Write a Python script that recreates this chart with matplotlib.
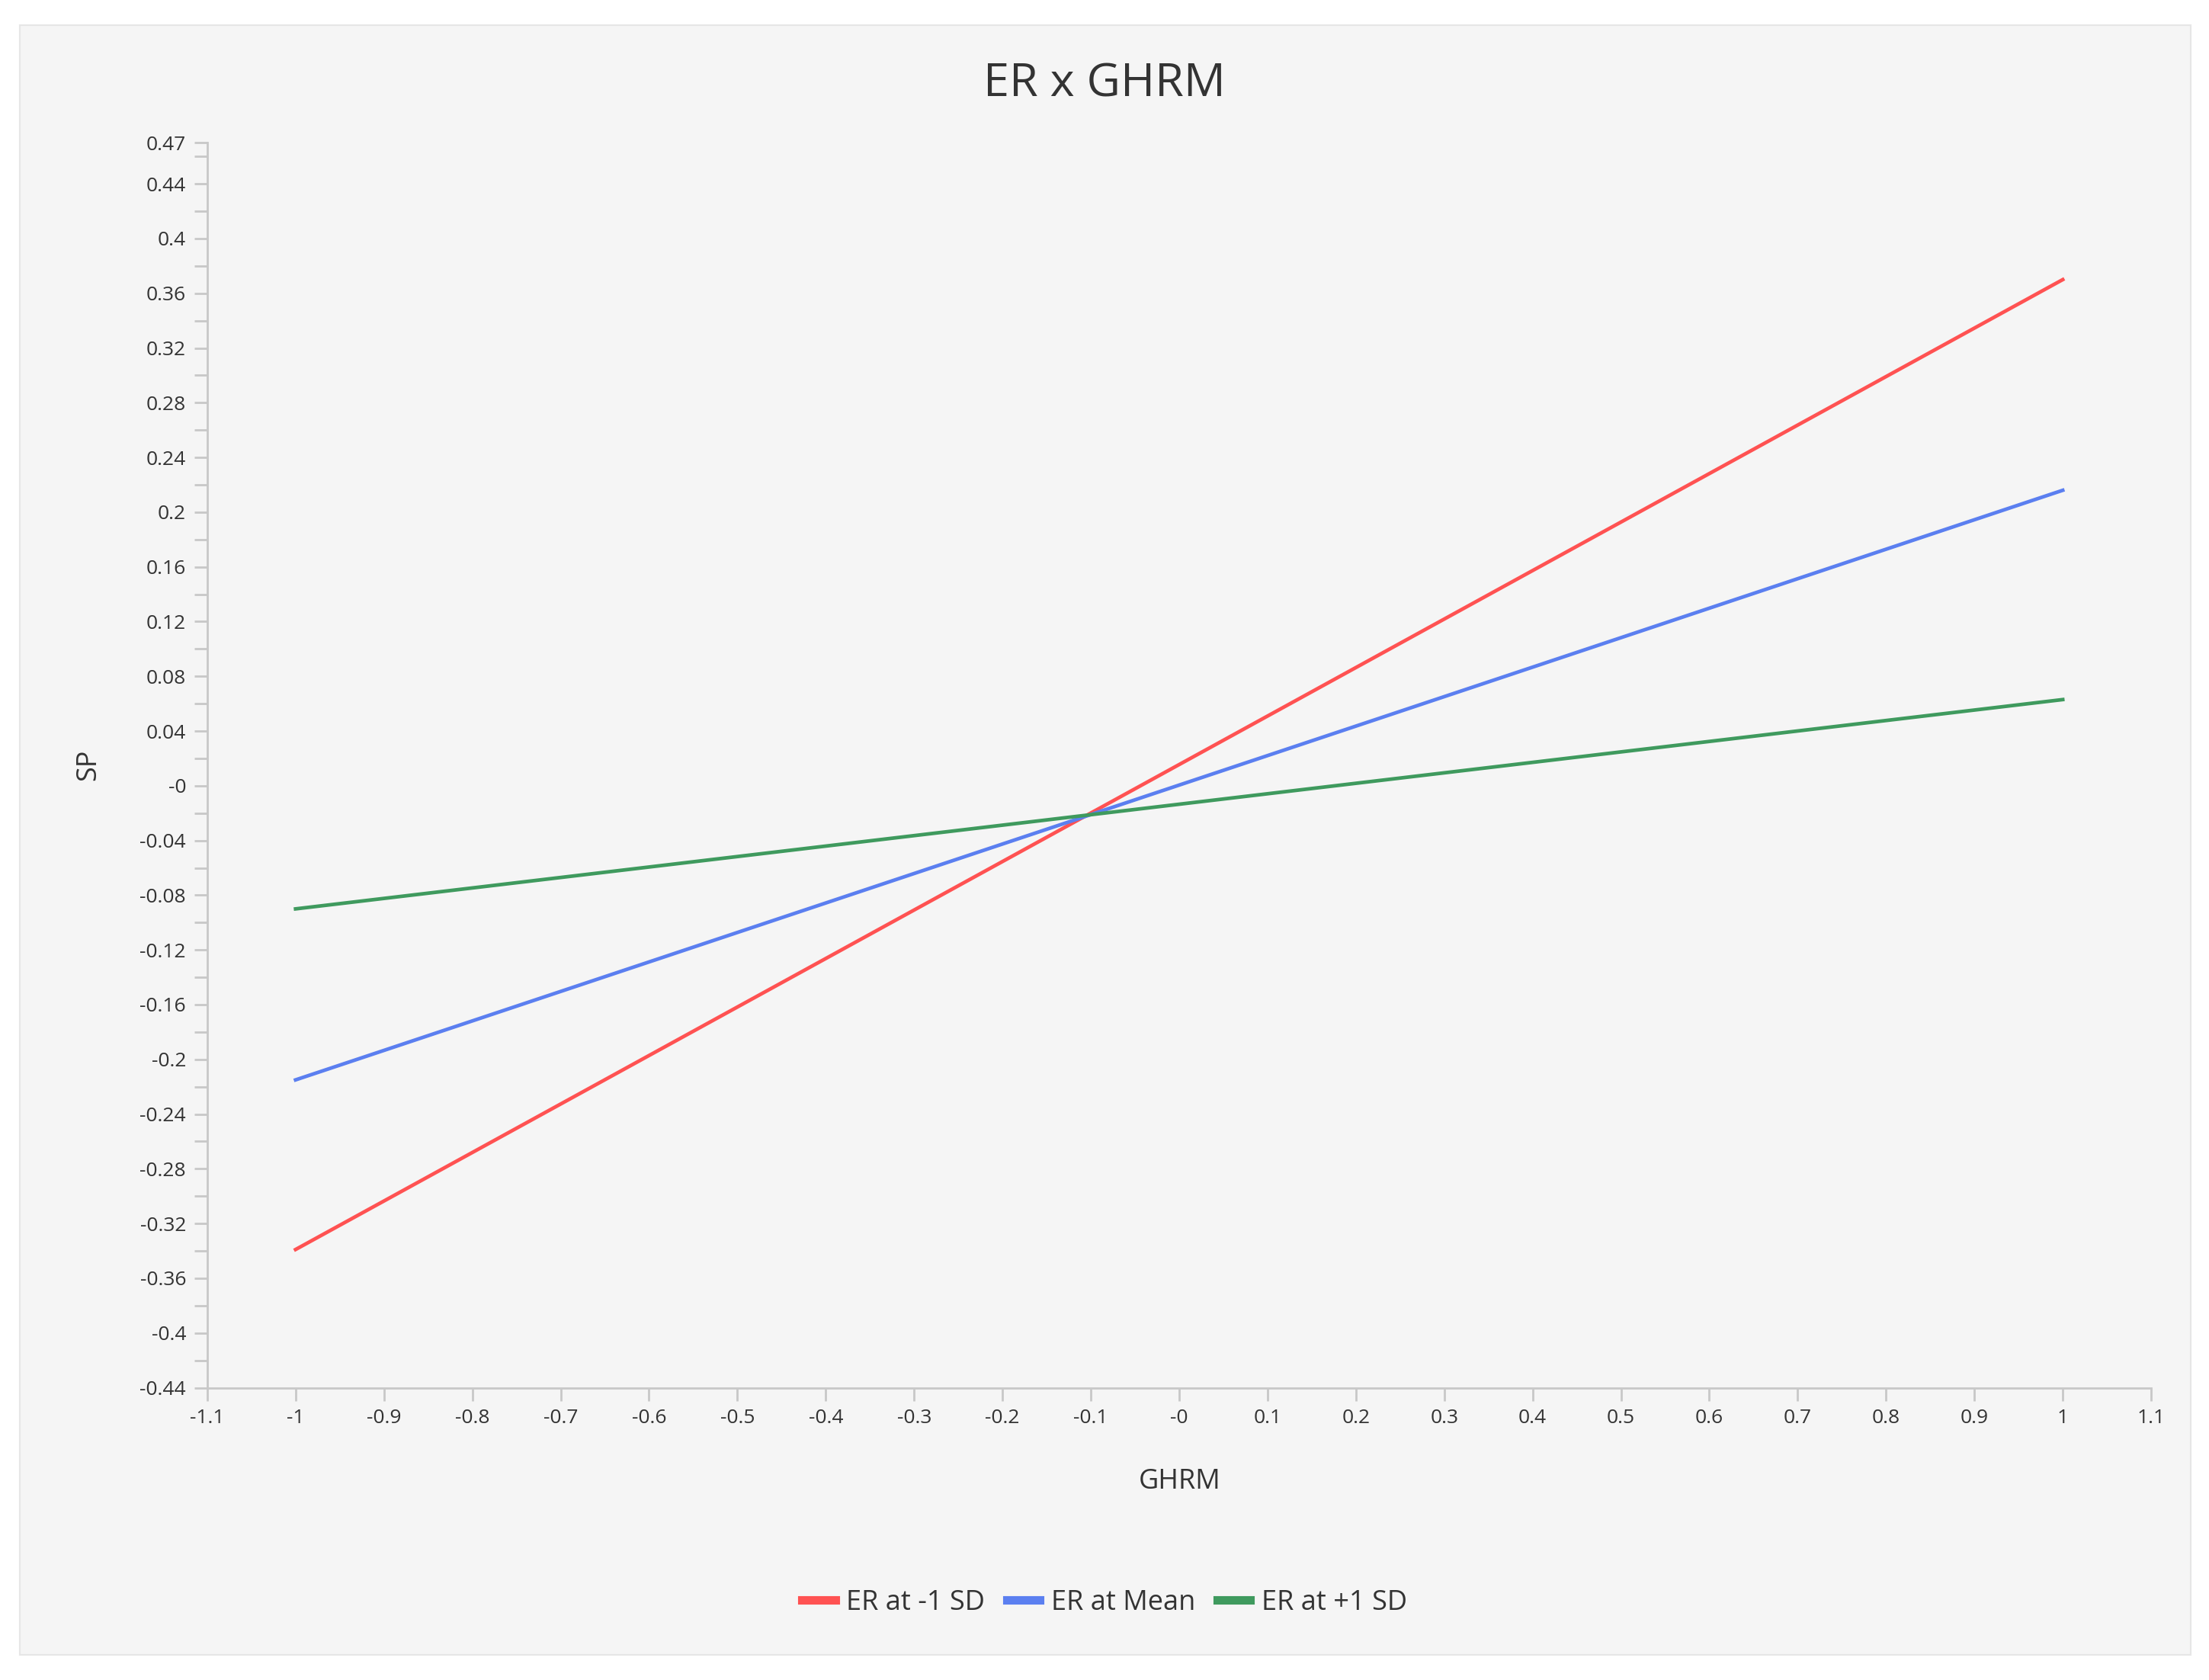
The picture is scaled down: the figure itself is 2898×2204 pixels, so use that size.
import matplotlib
matplotlib.use('Agg')
import matplotlib.pyplot as plt
from matplotlib.patches import Rectangle
import numpy as np

plt.rcParams['font.family'] = ['Open Sans', 'DejaVu Sans']

# simple slopes
ghrm = [-1, 1]
er_low = [-0.339, 0.370]
er_mean = [-0.215, 0.216]
er_high = [-0.090, 0.063]
series_names = ['ER at -1 SD', 'ER at Mean', 'ER at +1 SD']
series_colors = ['#ff5252', '#5b7ff0', '#3f9a5e']

y_ticks = [0.47] + [round(v, 2) for v in np.arange(0.44, -0.4401, -0.04)]
x_ticks = [round(v, 1) for v in np.arange(-1.1, 1.1001, 0.1)]

def fmt(v):
    if abs(v) < 1e-9:
        return '-0'
    return ('%g' % v)

fig = plt.figure(figsize=(28.98, 22.04), dpi=100)
fig.patches.append(Rectangle((0.0089, 0.0151), 0.9828, 0.9699, transform=fig.transFigure,
                             facecolor='#f5f5f5', edgecolor='#e6e6e6', linewidth=1.5, zorder=-10))

ax = fig.add_axes([0.0938, 0.174, 0.880, 0.741])
ax.set_zorder(5)
ax.set_facecolor('none')
for ys, c, n in zip([er_low, er_mean, er_high], series_colors, series_names):
    ax.plot(ghrm, ys, color=c, linewidth=3.4, label=n)

ax.set_xlim(-1.1, 1.1)
ax.set_ylim(-0.44, 0.47)
ax.set_xticks(x_ticks)
ax.set_xticklabels([fmt(v) for v in x_ticks])
ax.set_yticks(y_ticks)
ax.set_yticklabels([fmt(v) for v in y_ticks])
ax.set_yticks(np.arange(-0.42, 0.47, 0.04), minor=True)

for s in ['top', 'right']:
    ax.spines[s].set_visible(False)
for s in ['left', 'bottom']:
    ax.spines[s].set_color('#c8c8c8')
    ax.spines[s].set_linewidth(2)
ax.tick_params(which='both', colors='#c8c8c8', width=2, length=12, labelcolor='#333333', labelsize=19, pad=8)

fig.text(0.5, 0.95, 'ER x GHRM', ha='center', va='center', fontsize=44, color='#333333')
fig.text(0.534, 0.118, 'GHRM', ha='center', va='center', fontsize=26, color='#333333')
fig.text(0.040, 0.545, 'SP', ha='center', va='center', rotation=90, fontsize=26, color='#333333')

leg = fig.legend(loc='center', bbox_to_anchor=(0.5, 0.046), ncol=3, frameon=False, fontsize=26,
                 handlelength=1.2, handletextpad=0.4, columnspacing=0.8, labelcolor='#333333')
for ln in leg.get_lines():
    ln.set_linewidth(8)

fig.savefig('out.png', dpi=100)
